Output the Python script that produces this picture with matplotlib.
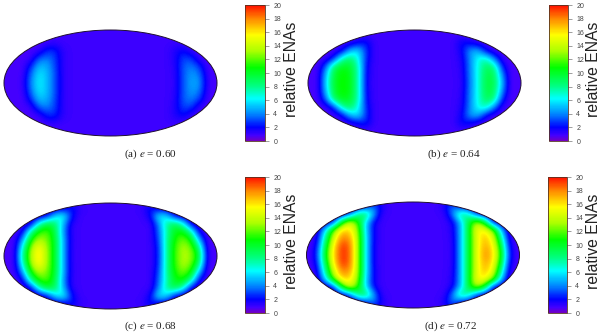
"""Four sky maps of relative ENA flux, one per eccentricity, each with a colorbar."""
import numpy as np
import matplotlib
matplotlib.use("Agg")
import matplotlib.pyplot as plt
from matplotlib.colors import LinearSegmentedColormap, Normalize
from matplotlib.cm import ScalarMappable
from matplotlib.patches import Ellipse

plt.rcParams['font.family'] = ['Liberation Sans', 'DejaVu Sans']
plt.rcParams['mathtext.fontset'] = 'stix'

W, H = 600, 333

# columns run -104..104 px from the map centre in steps of 8, rows go
# from the equator to the pole in steps of 8 px and are mirrored below
column_x = list(range(-104, 105, 8))
row_y = [0, 8, 16, 24, 32, 40, 48, 56]

# each row: 10 left columns | 7 middle | 10 right
flux_a = [
    [.8, .8, 1.0, 4.0, 6.2, 5.0, 3.2, 1.2, 1, 1] + [1] * 7 + [1, 1, 1, 1.0, 1.2, 3.2, 4.6, 4.5, 1.2, .8],
    [.8, .8, .9, 3.6, 6.0, 5.0, 3.2, 1.2, 1, 1] + [1] * 7 + [1, 1, 1, 1.0, 1.2, 3.2, 4.4, 4.0, 1.1, .8],
    [.8, .8, .8, 2.6, 5.2, 4.8, 3.0, 1.2, 1, 1] + [1] * 7 + [1, 1, 1, 1.0, 1.3, 3.3, 4.0, 3.0, .9, .8],
    [.8, .8, .8, 1.0, 3.5, 4.0, 2.9, 1.2, 1, 1] + [1] * 7 + [1, 1, 1, 1.0, 1.5, 3.0, 3.0, 1.1, .8, .8],
    [.8, .8, .8, .8, 1.0, 2.6, 2.6, 1.2, 1, 1] + [1] * 7 + [1, 1, 1, 1.0, 1.5, 2.2, 1.1, .8, .8, .8],
    [.8, .8, .8, .8, .8, 1.0, 1.2, 1.0, 1, 1] + [1] * 7 + [1, 1, 1, 1.0, 1.1, .9, .8, .8, .8, .8],
    [.8, .8, .8, .8, .8, .8, .9, .9, 1, 1] + [1] * 7 + [1, 1, 1, .9, .9, .8, .8, .8, .8, .8],
    [.8, .8, .8, .8, .8, .8, .8, .8, .9, .9] + [.9] * 7 + [.9, .9, .9, .8, .8, .8, .8, .8, .8, .8],
]
flux_b = [
    [.8, .8, 5.5, 10.0, 11.0, 10.5, 7.5, 1.8, 1, 1] + [1] * 7 + [1, 1.0, 1.1, 3.8, 6.5, 9.5, 9.5, 5.0, .8, .8],
    [.8, .8, 5.0, 9.8, 11.0, 10.5, 7.5, 1.9, 1, 1] + [1] * 7 + [1, 1.0, 1.2, 3.9, 6.5, 9.4, 9.2, 4.2, .8, .8],
    [.8, .8, 3.5, 9.0, 10.5, 10.0, 7.5, 2.0, 1, 1] + [1] * 7 + [1, 1.0, 1.3, 4.0, 6.5, 9.0, 8.5, 2.5, .8, .8],
    [.8, .8, .8, 2.5, 7.5, 9.0, 6.5, 2.5, 1, 1] + [1] * 7 + [1, 1.0, 1.5, 4.0, 6.5, 7.5, 4.0, 1.0, .8, .8],
    [.8, .8, .8, .8, 1.5, 5.0, 6.0, 2.7, 1, 1] + [1] * 7 + [1, 1.0, 1.8, 4.5, 5.0, 1.8, .8, .8, .8, .8],
    [.8, .8, .8, .8, .8, 1.0, 1.8, 2.5, 1, 1] + [1] * 7 + [1, 1.0, 2.2, 1.8, 1.0, .8, .8, .8, .8, .8],
    [.8, .8, .8, .8, .8, .8, .9, .9, .9, 1] + [1] * 7 + [1, .9, .9, .9, .8, .8, .8, .8, .8, .8],
    [.8, .8, .8, .8, .8, .8, .8, .8, .9, .9] + [.9] * 7 + [.9, .9, .9, .8, .8, .8, .8, .8, .8, .8],
]
flux_c = [
    [.8, .9, 8.0, 13.5, 16.5, 13.0, 10.0, 5.0, 1.2, 1] + [1] * 7 + [1, 1.0, 2.5, 8.0, 11.5, 13.5, 13.0, 10.0, 1.2, .8],
    [.8, .9, 7.0, 13.0, 16.0, 13.0, 10.0, 5.0, 1.2, 1] + [1] * 7 + [1, 1.0, 2.5, 8.0, 11.5, 13.5, 12.5, 8.5, 1.0, .8],
    [.8, .8, 4.5, 11.0, 13.5, 12.5, 10.0, 5.0, 1.3, 1] + [1] * 7 + [1, 1.0, 3.0, 8.0, 11.0, 12.5, 11.0, 5.0, .8, .8],
    [.8, .8, 1.6, 8.0, 11.5, 12.0, 9.5, 4.5, 1.2, 1] + [1] * 7 + [1, 1.0, 3.5, 7.5, 10.5, 11.0, 8.0, 1.6, .8, .8],
    [.8, .8, .8, 1.2, 7.0, 10.0, 9.0, 5.0, 1.3, 1] + [1] * 7 + [1, 1.0, 4.0, 8.0, 9.5, 7.0, 1.2, .8, .8, .8],
    [.8, .8, .8, .8, .8, 1.5, 5.5, 7.0, 2.5, 1.0] + [1] * 7 + [1.0, 2.0, 6.5, 5.5, 1.5, .8, .8, .8, .8, .8],
    [.8, .8, .8, .8, .8, .8, .8, .9, 2.5, 1.3] + [1] * 7 + [1.2, 2.5, .9, .8, .8, .8, .8, .8, .8, .8],
    [.8, .8, .8, .8, .8, .8, .8, .8, .8, .9] + [.9] * 7 + [.9, .8, .8, .8, .8, .8, .8, .8, .8, .8],
]
flux_d = [
    [.8, 2.5, 10.0, 16.0, 19.5, 19.0, 14.0, 6.5, 1.8, 1] + [1] * 7 + [1, 1.2, 5.0, 10.0, 15.0, 18.0, 16.5, 11.0, 2.5, .8],
    [.8, 2.0, 9.0, 15.5, 19.5, 19.0, 14.0, 6.5, 1.8, 1] + [1] * 7 + [1, 1.2, 5.0, 10.0, 15.0, 17.5, 16.0, 10.0, 2.0, .8],
    [.8, 1.3, 7.5, 14.0, 18.0, 18.0, 14.0, 6.5, 2.0, 1] + [1] * 7 + [1, 1.3, 5.0, 10.0, 15.0, 17.0, 15.0, 8.0, 1.3, .8],
    [.8, .8, 5.5, 12.0, 16.5, 16.5, 13.5, 6.0, 2.0, 1] + [1] * 7 + [1, 1.5, 5.0, 10.0, 15.5, 16.0, 13.0, 5.5, .8, .8],
    [.8, .8, .8, 1.6, 9.5, 15.0, 12.0, 6.0, 2.0, 1] + [1] * 7 + [1, 1.6, 5.0, 10.0, 14.0, 10.0, 1.6, .8, .8, .8],
    [.8, .8, .8, .8, .8, 2.0, 7.5, 10.0, 5.0, 1.2] + [1] * 7 + [1.1, 4.0, 9.0, 7.0, 2.0, .8, .8, .8, .8, .8],
    [.8, .8, .8, .8, .8, .8, .8, .9, 4.0, 1.8] + [1] * 7 + [1.7, 4.0, .9, .8, .8, .8, .8, .8, .8, .8],
    [.8, .8, .8, .8, .8, .8, .8, .8, .8, .9] + [.9] * 7 + [.9, .8, .8, .8, .8, .8, .8, .8, .8, .8],
]

panel_flux = [flux_a, flux_b, flux_c, flux_d]
panel_labels = [r"(a) $e$ = 0.60", r"(b) $e$ = 0.64", r"(c) $e$ = 0.68", r"(d) $e$ = 0.72"]
cbar_ticks = [0, 2, 4, 6, 8, 10, 12, 14, 16, 18, 20]

# map centre (x, y), colorbar left/top/right/bottom, caption centre, all in picture pixels
map_centres = [(110.5, 83), (414.5, 83), (110.5, 256), (413, 255)]
cbar_boxes = [(245, 5, 265, 141), (549, 5, 568, 141), (245, 177, 265, 313), (548, 177, 567, 313)]
caption_pos = [(150, 154), (454, 154), (150, 326), (451, 326)]
label_x = [291, 593, 291, 593]

rainbow = LinearSegmentedColormap.from_list("ena", [
    (0.0, "#7000c4"), (0.04, "#4400ff"), (0.10, "#0000ff"), (0.20, "#0088ff"),
    (0.31, "#00ffff"), (0.40, "#00ff88"), (0.54, "#00ff00"), (0.66, "#aaff00"),
    (0.78, "#ffff00"), (0.90, "#ff8800"), (1.0, "#ff1000")])
norm = Normalize(0, 20)


def pixel_axes(fig, left, top, right, bottom):
    return fig.add_axes([left / W, 1 - bottom / H, (right - left) / W, (bottom - top) / H])


def draw_map(fig, centre, flux):
    half = np.array(flux, dtype=float)
    grid = np.vstack([half[::-1], half[1:]])  # north-south mirror
    cx, cy = centre
    ax = pixel_axes(fig, cx - 110, cy - 66, cx + 110, cy + 66)
    step_x = column_x[1] - column_x[0]
    step_y = row_y[1] - row_y[0]
    im = ax.imshow(grid, cmap=rainbow, norm=norm, interpolation='bicubic', aspect='auto',
                   extent=[column_x[0] - step_x / 2, column_x[-1] + step_x / 2,
                           -row_y[-1] - step_y / 2, row_y[-1] + step_y / 2])
    outline = Ellipse((0, 0), 213, 106, fc='none', ec='#201030', lw=0.7)
    ax.add_patch(outline)
    im.set_clip_path(outline)
    ax.set_xlim(-110, 110)
    ax.set_ylim(-66, 66)
    ax.axis('off')


def draw_colorbar(fig, box, text_x):
    left, top, right, bottom = box
    cax = pixel_axes(fig, left, top, right, bottom)
    cb = fig.colorbar(ScalarMappable(norm=norm, cmap=rainbow), cax=cax, ticks=cbar_ticks)
    cb.outline.set_edgecolor('#553322')
    cb.outline.set_linewidth(0.6)
    cax.tick_params(length=3, width=0.5, color='#777777', labelsize=5, labelcolor='#444444', pad=3)
    fig.text(text_x / W, 1 - (top + bottom) / 2 / H + 0.01, "relative ENAs", rotation=90,
             fontsize=11.3, color='#222222', ha='center', va='center')


fig = plt.figure(figsize=(W / 100, H / 100), dpi=100)
for i in range(4):
    draw_map(fig, map_centres[i], panel_flux[i])
    draw_colorbar(fig, cbar_boxes[i], label_x[i])
    fig.text(caption_pos[i][0] / W, 1 - caption_pos[i][1] / H, panel_labels[i], family='Liberation Serif',
             fontsize=8, color='#222222', ha='center', va='center')

fig.savefig("out.png", dpi=100)
